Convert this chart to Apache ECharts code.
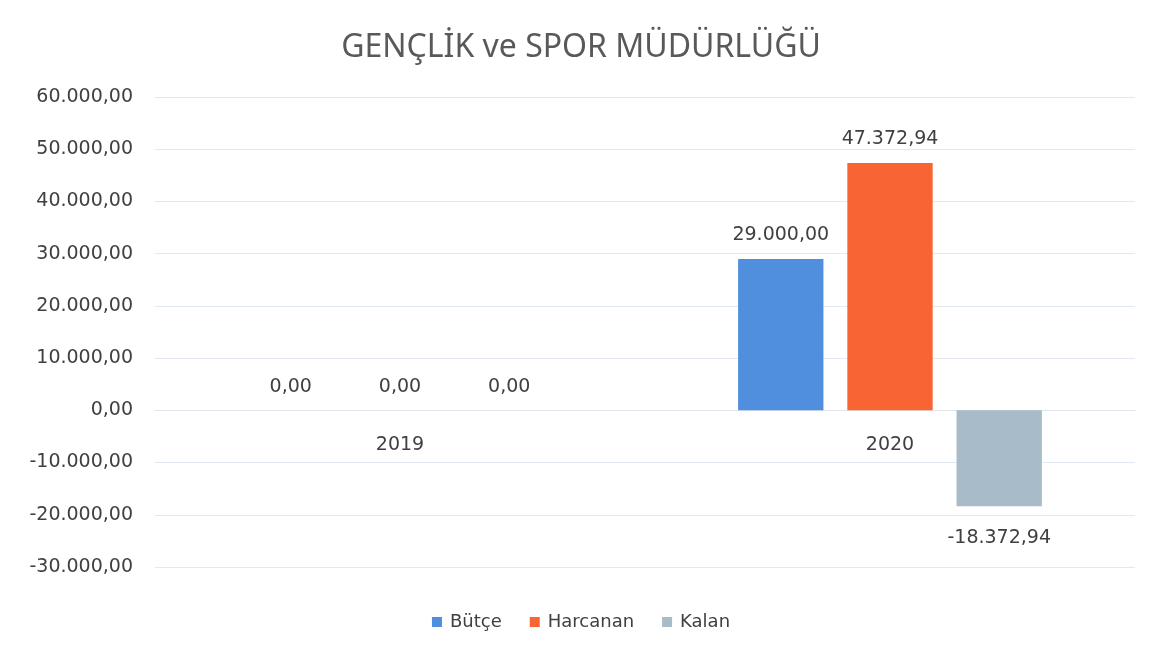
<!DOCTYPE html>
<html lang="tr">
<head>
  <meta charset="UTF-8">
  <title>GENÇLİK ve SPOR MÜDÜRLÜĞÜ</title>
  <script src="https://cdn.jsdelivr.net/npm/echarts/dist/echarts.min.js"></script>
  <style>
    html, body { margin: 0; padding: 0; background: #fff; }
    #chart { width: 1162px; height: 662px; }
  </style>
</head>
<body>
<div id="chart"></div>
<script>
  // Veriler
  const years = ["2019", "2020"];
  const butce = [0, 29000];
  const harcanan = [0, 47372.94];
  const kalan = [0, -18372.94];

  const yMin = -30000, yMax = 60000, yStep = 10000;

  // Türkçe sayı biçimi: 47.372,94
  function trFormat(v) {
    const neg = v < 0;
    const parts = Math.abs(v).toFixed(2).split(".");
    const intPart = parts[0].replace(/\B(?=(\d{3})+(?!\d))/g, ".");
    return (neg ? "-" : "") + intPart + "," + parts[1];
  }

  const textColor = "#404040";
  const font = "DejaVu Sans";

  const chartH = 662, gridTop = 97, gridBottom = 95;
  // kategori ekseni sıfır çizgisine taşınır (Excel'deki gibi)
  const zeroOffset = -(chartH - gridTop - gridBottom) * (0 - yMin) / (yMax - yMin);

  function withLabels(values) {
    return values.map(v => ({
      value: v,
      label: v < 0 ? { position: "bottom", distance: 22 } : { position: "top" }
    }));
  }

  function barSeries(name, values, color) {
    return {
      name: name,
      type: "bar",
      data: withLabels(values),
      barGap: "28%",
      barCategoryGap: "38%",
      itemStyle: { color: color },
      label: {
        show: true,
        distance: 14,
        color: textColor,
        fontFamily: font,
        fontSize: 19,
        formatter: p => trFormat(p.value)
      }
    };
  }

  const chart = echarts.init(document.getElementById("chart"));
  chart.setOption({
    backgroundColor: "#fff",
    animation: false,
    title: {
      text: "GENÇLİK ve SPOR MÜDÜRLÜĞÜ",
      left: "center",
      top: 27,
      textStyle: { color: "#595959", fontFamily: "Noto Sans", fontSize: 32, fontWeight: "normal" }
    },
    legend: {
      bottom: 26,
      left: "center",
      itemWidth: 10,
      itemHeight: 10,
      itemGap: 28,
      icon: "rect",
      textStyle: { color: textColor, fontFamily: font, fontSize: 18, padding: [0, 0, 0, 3] }
    },
    grid: { left: 155, right: 27, top: gridTop, bottom: gridBottom },
    xAxis: {
      type: "category",
      data: years,
      offset: zeroOffset,
      axisTick: { show: false },
      axisLine: { onZero: false, lineStyle: { color: "#dfe5ec" } },
      axisLabel: { color: textColor, fontFamily: font, fontSize: 19, margin: 25 }
    },
    yAxis: {
      type: "value",
      min: yMin,
      max: yMax,
      interval: yStep,
      axisLine: { show: false },
      axisTick: { show: false },
      splitLine: { lineStyle: { color: "#e3e9f0" } },
      axisLabel: {
        color: textColor, fontFamily: font, fontSize: 19, margin: 22,
        formatter: v => trFormat(v)
      }
    },
    series: [
      barSeries("Bütçe", butce, "#4f8fde"),
      barSeries("Harcanan", harcanan, "#f86532"),
      barSeries("Kalan", kalan, "#a8bbc9")
    ]
  });
</script>
</body>
</html>
